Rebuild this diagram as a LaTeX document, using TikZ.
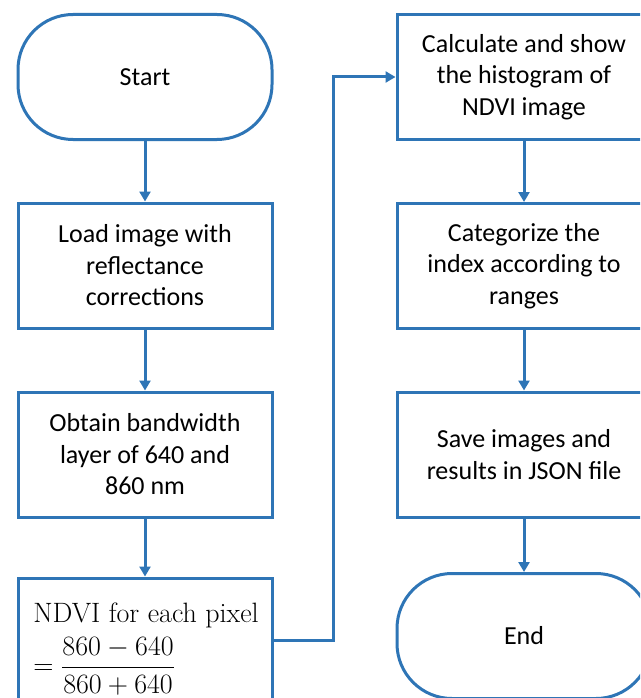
\RequirePackage{fix-cm}
\documentclass[tikz,border=0pt]{standalone}
\usepackage{fontspec}
\usepackage{amsmath}
\setsansfont{Carlito}
\usetikzlibrary{arrows.meta}
\definecolor{flowblue}{RGB}{46,117,182}
\tikzset{
  stepbox/.style={draw=flowblue, line width=3pt, fill=white, minimum width=254pt,
    minimum height=125pt, align=center, text=black,
    font=\sffamily\fontsize{26}{31.5}\selectfont},
  termbox/.style={stepbox, rounded corners=55pt},
  formula/.style={align=left, inner sep=0pt, text=black,
    font=\fontsize{28}{33}\selectfont},
  arr/.style={draw=flowblue, line width=3pt,
    -{Triangle[width=11pt,length=10pt]}}
}
\begin{document}
\begin{tikzpicture}[x=1pt,y=-1pt]
  \useasboundingbox (0,0) rectangle (640,698);
  \clip (0,0) rectangle (640,698);
  \fill[white] (0,0) rectangle (640,698);

  % left column
  \node[termbox] (start) at (145,77) {Start};
  \node[stepbox] (load) at (145,265.5) {Load image with\\reflectance\\corrections};
  \node[stepbox] (band) at (145,454.5) {Obtain bandwidth\\layer of 640 and\\860 nm};
  \node[stepbox] (ndvi) at (145,640.5) {};
  \node[formula] (ndvitext) at (146,649)
    {NDVI for each pixel\\[8pt]$=\dfrac{860-640}{860+640}$};

  % right column
  \node[stepbox] (hist) at (524,77) {Calculate and show\\the histogram of\\NDVI image};
  \node[stepbox] (cat) at (524,266) {Categorize the\\index according to\\ranges};
  \node[stepbox] (save) at (524,454.5) {Save images and\\results in JSON file};
  \node[termbox] (stop) at (524,636) {End};

  % connectors
  \coordinate (turn) at (333,0);
  \draw[arr] (start) -- (load);
  \draw[arr] (load) -- (band);
  \draw[arr] (band) -- (ndvi);
  \draw[arr] (ndvi.east) -- (ndvi.east -| turn) |- (hist.west);
  \draw[arr] (hist) -- (cat);
  \draw[arr] (cat) -- (save);
  \draw[arr] (save) -- (stop);
\end{tikzpicture}
\end{document}
